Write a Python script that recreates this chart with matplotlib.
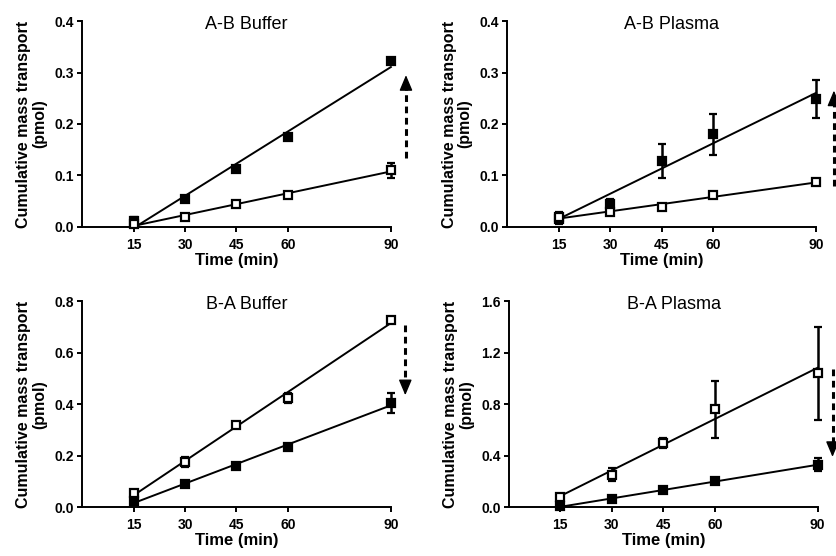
import numpy as np
import matplotlib
matplotlib.use("Agg")
import matplotlib.pyplot as plt

plt.rcParams.update({"font.family": ["Liberation Sans", "DejaVu Sans"], "font.size": 10,
                     "axes.linewidth": 1.4, "xtick.major.width": 1.4, "ytick.major.width": 1.4,
                     "xtick.major.size": 3.8, "ytick.major.size": 3.8,
                     "xtick.major.pad": 4, "ytick.major.pad": 2})

time = [15, 30, 45, 60, 90]

# A-B Buffer
ab_buf_filled = [0.012, 0.055, 0.113, 0.175, 0.322]
ab_buf_filled_err = [0.008, 0.005, 0.006, 0.003, 0.002]
ab_buf_open = [0.005, 0.020, 0.045, 0.062, 0.110]
ab_buf_open_err = [0.003, 0.002, 0.006, 0.003, 0.015]
# A-B Plasma
ab_pla_filled = [0.015, 0.045, 0.128, 0.180, 0.248]
ab_pla_filled_err = [0.010, 0.010, 0.033, 0.040, 0.037]
ab_pla_open = [0.020, 0.028, 0.038, 0.062, 0.087]
ab_pla_open_err = [0.008, 0.003, 0.002, 0.002, 0.002]
# B-A Buffer
ba_buf_filled = [0.025, 0.090, 0.160, 0.233, 0.405]
ba_buf_filled_err = [0.005, 0.004, 0.004, 0.004, 0.040]
ba_buf_open = [0.055, 0.175, 0.318, 0.425, 0.728]
ba_buf_open_err = [0.008, 0.018, 0.005, 0.020, 0.012]
# B-A Plasma
ba_pla_filled = [0.005, 0.065, 0.130, 0.200, 0.330]
ba_pla_filled_err = [0.004, 0.005, 0.005, 0.006, 0.050]
ba_pla_open = [0.075, 0.250, 0.500, 0.760, 1.040]
ba_pla_open_err = [0.020, 0.050, 0.040, 0.220, 0.360]

panels = [
    ("A-B Buffer", ab_buf_filled, ab_buf_filled_err, ab_buf_open, ab_buf_open_err, 0.4, 0.1, (94.4, 0.134, 0.295)),
    ("A-B Plasma", ab_pla_filled, ab_pla_filled_err, ab_pla_open, ab_pla_open_err, 0.4, 0.1, (95.2, 0.08, 0.265)),
    ("B-A Buffer", ba_buf_filled, ba_buf_filled_err, ba_buf_open, ba_buf_open_err, 0.8, 0.2, (94.2, 0.707, 0.435)),
    ("B-A Plasma", ba_pla_filled, ba_pla_filled_err, ba_pla_open, ba_pla_open_err, 1.6, 0.4, (94.3, 1.07, 0.39)),
]
boxes = [(0.098, 0.592), (0.606, 0.592), (0.098, 0.088), (0.608, 0.088)]

fig = plt.figure(figsize=(8.37, 5.56), dpi=100)
x = np.array(time)
for (title, yf, ef, yo, eo, ymax, step, arr), (l, b) in zip(panels, boxes):
    ax = fig.add_axes([l, b, 0.369, 0.370])
    for y, e, fc in ((yf, ef, "black"), (yo, eo, "white")):
        k, c = np.polyfit(x, y, 1)
        ax.plot([15, 90], [k * 15 + c, k * 90 + c], color="black", lw=1.4, zorder=2, clip_on=False)
        ax.errorbar(x, y, yerr=e, fmt="s", ms=6.3, mfc=fc, mec="black", mew=1.6, ecolor="black",
                    elinewidth=1.8, capsize=3, capthick=1.8, zorder=3, clip_on=False)
    # dashed shaft + solid head
    ax_x, tail, tip = arr
    d = np.sign(tip - tail) * 0.065 * ymax
    ax.plot([ax_x, ax_x], [tail, tip - d * 0.8], color="black", lw=2.2, ls=(0, (2.2, 1.5)), clip_on=False)
    ax.annotate("", xy=(ax_x, tip), xytext=(ax_x, tip - d), annotation_clip=False,
                arrowprops=dict(arrowstyle="-|>,head_length=0.95,head_width=0.4", color="black",
                                lw=1, shrinkA=0, shrinkB=0))
    ax.set_xlim(0, 90)
    ax.set_ylim(0, ymax)
    ax.set_xticks(time)
    ax.set_yticks(np.arange(0, ymax + step / 2, step))
    ax.yaxis.set_major_formatter(matplotlib.ticker.FormatStrFormatter("%.1f"))
    for t in ax.get_xticklabels() + ax.get_yticklabels():
        t.set_fontweight("bold")
    ax.spines["top"].set_visible(False)
    ax.spines["right"].set_visible(False)
    ax.set_xlabel("Time (min)", fontweight="bold", fontsize=12, labelpad=1)
    ax.set_ylabel("Cumulative mass transport\n(pmol)", fontweight="bold", fontsize=11.5, labelpad=5, linespacing=1.1)
    ax.text(48, ymax * 0.985, title, ha="center", va="center", fontsize=13)

fig.savefig("out.png", dpi=100)
